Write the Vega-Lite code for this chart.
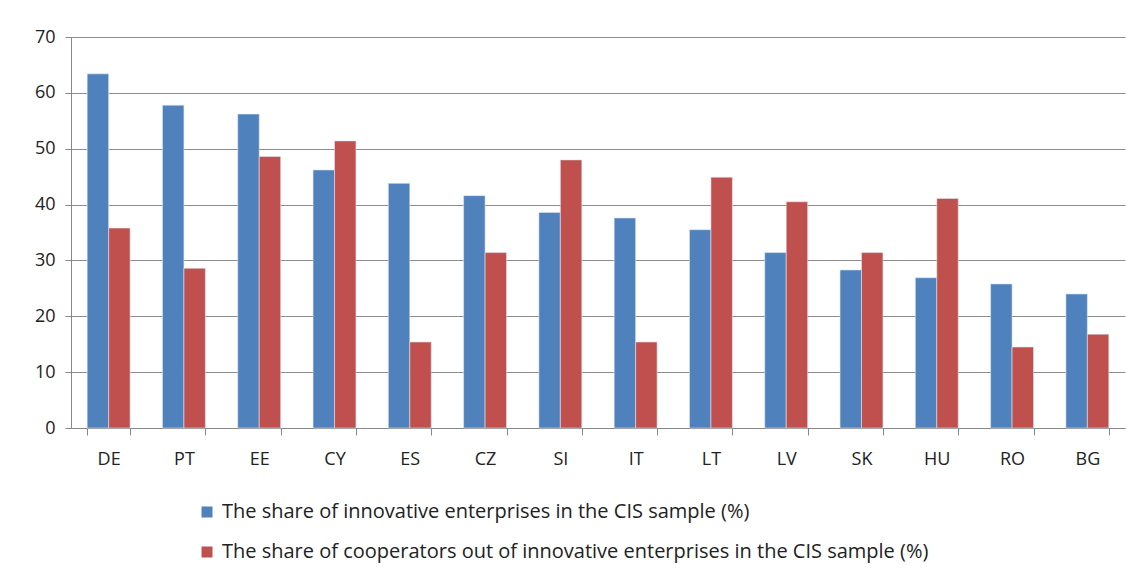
{
  "$schema": "https://vega.github.io/schema/vega-lite/v6.json",
  "autosize": {"type": "none"},
  "padding": {"left": 71, "top": 37, "right": 18, "bottom": 153},
  "width": 1054,
  "height": 391,
  "background": "white",
  "config": {
    "font": "Open Sans",
    "view": {"stroke": null}
  },
  "data": {
    "values": [
      {"country": "DE", "series": "The share of innovative enterprises in the CIS sample (%)", "value": 63.4},
      {"country": "DE", "series": "The share of cooperators out of innovative enterprises in the CIS sample (%)", "value": 35.8},
      {"country": "PT", "series": "The share of innovative enterprises in the CIS sample (%)", "value": 57.8},
      {"country": "PT", "series": "The share of cooperators out of innovative enterprises in the CIS sample (%)", "value": 28.6},
      {"country": "EE", "series": "The share of innovative enterprises in the CIS sample (%)", "value": 56.2},
      {"country": "EE", "series": "The share of cooperators out of innovative enterprises in the CIS sample (%)", "value": 48.6},
      {"country": "CY", "series": "The share of innovative enterprises in the CIS sample (%)", "value": 46.2},
      {"country": "CY", "series": "The share of cooperators out of innovative enterprises in the CIS sample (%)", "value": 51.4},
      {"country": "ES", "series": "The share of innovative enterprises in the CIS sample (%)", "value": 43.8},
      {"country": "ES", "series": "The share of cooperators out of innovative enterprises in the CIS sample (%)", "value": 15.4},
      {"country": "CZ", "series": "The share of innovative enterprises in the CIS sample (%)", "value": 41.6},
      {"country": "CZ", "series": "The share of cooperators out of innovative enterprises in the CIS sample (%)", "value": 31.4},
      {"country": "SI", "series": "The share of innovative enterprises in the CIS sample (%)", "value": 38.6},
      {"country": "SI", "series": "The share of cooperators out of innovative enterprises in the CIS sample (%)", "value": 48.0},
      {"country": "IT", "series": "The share of innovative enterprises in the CIS sample (%)", "value": 37.6},
      {"country": "IT", "series": "The share of cooperators out of innovative enterprises in the CIS sample (%)", "value": 15.4},
      {"country": "LT", "series": "The share of innovative enterprises in the CIS sample (%)", "value": 35.5},
      {"country": "LT", "series": "The share of cooperators out of innovative enterprises in the CIS sample (%)", "value": 44.9},
      {"country": "LV", "series": "The share of innovative enterprises in the CIS sample (%)", "value": 31.4},
      {"country": "LV", "series": "The share of cooperators out of innovative enterprises in the CIS sample (%)", "value": 40.5},
      {"country": "SK", "series": "The share of innovative enterprises in the CIS sample (%)", "value": 28.3},
      {"country": "SK", "series": "The share of cooperators out of innovative enterprises in the CIS sample (%)", "value": 31.4},
      {"country": "HU", "series": "The share of innovative enterprises in the CIS sample (%)", "value": 26.9},
      {"country": "HU", "series": "The share of cooperators out of innovative enterprises in the CIS sample (%)", "value": 41.1},
      {"country": "RO", "series": "The share of innovative enterprises in the CIS sample (%)", "value": 25.8},
      {"country": "RO", "series": "The share of cooperators out of innovative enterprises in the CIS sample (%)", "value": 14.5},
      {"country": "BG", "series": "The share of innovative enterprises in the CIS sample (%)", "value": 24.0},
      {"country": "BG", "series": "The share of cooperators out of innovative enterprises in the CIS sample (%)", "value": 16.8}
    ]
  },
  "mark": {"type": "bar", "stroke": "#dfe6f0", "strokeWidth": 0.6},
  "encoding": {
    "x": {
      "field": "country",
      "type": "nominal",
      "sort": null,
      "title": null,
      "scale": {"paddingInner": 0.43, "paddingOuter": 0.215},
      "axis": {
        "labelAngle": 0,
        "labelFontSize": 18,
        "labelColor": "#222222",
        "labelPadding": 15,
        "tickBand": "extent",
        "tickSize": 7,
        "tickColor": "#888888",
        "domainColor": "#888888",
        "grid": false
      }
    },
    "xOffset": {
      "field": "series",
      "type": "nominal",
      "sort": [
        "The share of innovative enterprises in the CIS sample (%)",
        "The share of cooperators out of innovative enterprises in the CIS sample (%)"
      ]
    },
    "y": {
      "field": "value",
      "type": "quantitative",
      "title": null,
      "scale": {"domain": [0, 70], "nice": false},
      "axis": {
        "values": [0, 10, 20, 30, 40, 50, 60, 70],
        "labelFontSize": 18,
        "labelColor": "#222222",
        "labelPadding": 10,
        "tickSize": 6,
        "tickColor": "#888888",
        "domainColor": "#888888",
        "gridColor": "#8c8c8c",
        "gridWidth": 1
      }
    },
    "color": {
      "field": "series",
      "type": "nominal",
      "sort": [
        "The share of innovative enterprises in the CIS sample (%)",
        "The share of cooperators out of innovative enterprises in the CIS sample (%)"
      ],
      "scale": {
        "domain": [
          "The share of innovative enterprises in the CIS sample (%)",
          "The share of cooperators out of innovative enterprises in the CIS sample (%)"
        ],
        "range": ["#4F81BD", "#C0504D"]
      },
      "legend": {
        "orient": "none",
        "legendX": 126,
        "legendY": 465,
        "direction": "vertical",
        "title": null,
        "symbolType": "square",
        "symbolSize": 121,
        "symbolStrokeWidth": 0,
        "labelFontSize": 20,
        "labelColor": "#222222",
        "labelLimit": 1000,
        "rowPadding": 20,
        "labelOffset": 5
      }
    }
  }
}
